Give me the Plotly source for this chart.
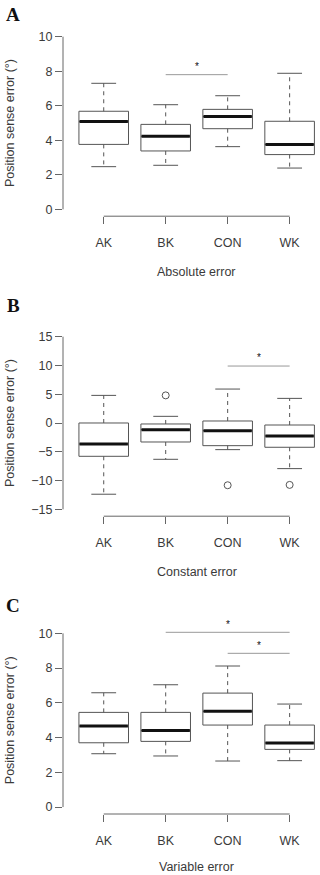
import plotly.graph_objects as go

W, H = 320, 875

categories = ["AK", "BK", "CON", "WK"]
cat_x = [1, 2, 3, 4]

# Panel A: Absolute error
a_lower = [2.47, 2.55, 3.63, 2.39]
a_q1 = [3.76, 3.38, 4.67, 3.17]
a_median = [5.08, 4.23, 5.37, 3.76]
a_q3 = [5.68, 4.92, 5.79, 5.10]
a_upper = [7.30, 6.06, 6.58, 7.88]
a_out_x = []
a_out_y = []
a_sig_from = [2]
a_sig_to = [3]
a_sig_y = [7.80]
a_star_y = [8.45]

# Panel B: Constant error
b_lower = [-12.38, -6.31, -4.63, -7.93]
b_q1 = [-5.79, -3.30, -3.94, -4.22]
b_median = [-3.65, -1.16, -1.33, -2.26]
b_q3 = [0.0, -0.17, 0.35, -0.35]
b_upper = [4.80, 1.16, 5.90, 4.28]
b_out_x = [2, 3, 4]
b_out_y = [4.80, -10.82, -10.76]
b_sig_from = [3]
b_sig_to = [4]
b_sig_y = [9.9]
b_star_y = [11.9]

# Panel C: Variable error
c_lower = [3.07, 2.94, 2.65, 2.67]
c_q1 = [3.70, 3.78, 4.72, 3.32]
c_median = [4.66, 4.40, 5.51, 3.69]
c_q3 = [5.45, 5.45, 6.56, 4.72]
c_upper = [6.58, 7.04, 8.12, 5.93]
c_out_x = []
c_out_y = []
c_sig_from = [2, 3]
c_sig_to = [4, 4]
c_sig_y = [10.06, 8.85]
c_star_y = [10.69, 9.46]

y_ticks_a = [0, 2, 4, 6, 8, 10]
y_ticks_b = [-15, -10, -5, 0, 5, 10, 15]
y_ticks_c = [0, 2, 4, 6, 8, 10]

panel_letters = ["A", "B", "C"]
x_titles = ["Absolute error", "Constant error", "Variable error"]
y_title = "Position sense error (°)"

panels = [
    dict(lower=a_lower, q1=a_q1, med=a_median, q3=a_q3, upper=a_upper,
         ox=a_out_x, oy=a_out_y, sf=a_sig_from, st=a_sig_to, sy=a_sig_y, stary=a_star_y,
         ticks=y_ticks_a, yr=[-0.4, 10.4], top=29.8, bot=216.2, letter_y=14, xt_y=271.5),
    dict(lower=b_lower, q1=b_q1, med=b_median, q3=b_q3, upper=b_upper,
         ox=b_out_x, oy=b_out_y, sf=b_sig_from, st=b_sig_to, sy=b_sig_y, stary=b_star_y,
         ticks=y_ticks_b, yr=[-16.2, 16.2], top=329.8, bot=516.2, letter_y=305.5, xt_y=571.5),
    dict(lower=c_lower, q1=c_q1, med=c_median, q3=c_q3, upper=c_upper,
         ox=c_out_x, oy=c_out_y, sf=c_sig_from, st=c_sig_to, sy=c_sig_y, stary=c_star_y,
         ticks=y_ticks_c, yr=[-0.4, 10.4], top=626.4, bot=814.0, letter_y=605, xt_y=867),
]

BOX_COL = "#555555"
AXIS_COL = "#666666"
TEXT_COL = "#3a3a3a"
FONT = "Liberation Sans, Arial, sans-serif"
FS = 12.5
BOXW = 0.8
STAPLE = 0.2

def py(p):
    return 1 - p / H

fig = go.Figure()
layout = dict(
    width=W, height=H, margin=dict(l=0, r=0, t=0, b=0),
    paper_bgcolor="white", plot_bgcolor="white", showlegend=False,
    font=dict(family=FONT, size=FS, color=TEXT_COL),
)
shapes = []
annotations = []

for i, p in enumerate(panels):
    n = "" if i == 0 else str(i + 1)
    xa, ya = "x" + n, "y" + n
    # box bodies
    fig.add_trace(go.Box(
        x=cat_x, q1=p["q1"], median=p["med"], q3=p["q3"],
        lowerfence=p["q1"], upperfence=p["q3"], width=BOXW,
        fillcolor="white", line=dict(color=BOX_COL, width=1),
        boxpoints=False, whiskerwidth=0, xaxis=xa, yaxis=ya, hoverinfo="skip"))
    # whiskers (dashed)
    wx, wy = [], []
    for x, lo, q1, q3, up in zip(cat_x, p["lower"], p["q1"], p["q3"], p["upper"]):
        wx += [x, x, None, x, x, None]
        wy += [q3, up, None, q1, lo, None]
    fig.add_trace(go.Scatter(x=wx, y=wy, mode="lines", xaxis=xa, yaxis=ya,
                             line=dict(color=BOX_COL, width=1, dash="4px,4px"), hoverinfo="skip"))
    # staples
    sx, sy = [], []
    for x, lo, up in zip(cat_x, p["lower"], p["upper"]):
        sx += [x - STAPLE, x + STAPLE, None, x - STAPLE, x + STAPLE, None]
        sy += [up, up, None, lo, lo, None]
    fig.add_trace(go.Scatter(x=sx, y=sy, mode="lines", xaxis=xa, yaxis=ya,
                             line=dict(color=BOX_COL, width=1), hoverinfo="skip"))
    # thick medians
    mx, my = [], []
    for x, m in zip(cat_x, p["med"]):
        mx += [x - BOXW / 2 + 0.01, x + BOXW / 2 - 0.01, None]
        my += [m, m, None]
    fig.add_trace(go.Scatter(x=mx, y=my, mode="lines", xaxis=xa, yaxis=ya,
                             line=dict(color="#111111", width=3), hoverinfo="skip"))
    # outliers
    if p["ox"]:
        fig.add_trace(go.Scatter(x=p["ox"], y=p["oy"], mode="markers", xaxis=xa, yaxis=ya,
                                 marker=dict(symbol="circle-open", size=7,
                                             line=dict(color=BOX_COL, width=1), color=BOX_COL),
                                 hoverinfo="skip"))
    # significance bars
    gx, gy = [], []
    for a, b, yv in zip(p["sf"], p["st"], p["sy"]):
        gx += [a, b, None]
        gy += [yv, yv, None]
    fig.add_trace(go.Scatter(x=gx, y=gy, mode="lines", xaxis=xa, yaxis=ya, cliponaxis=False,
                             line=dict(color="#999999", width=1), hoverinfo="skip"))
    # significance stars (domain fraction so they may sit above the plot region)
    r0, r1 = p["yr"]
    for a, b, yv in zip(p["sf"], p["st"], p["stary"]):
        annotations.append(dict(text="*", xref=xa, yref=ya + " domain", x=(a + b) / 2,
                                y=(yv - r0) / (r1 - r0), showarrow=False,
                                xanchor="center", yanchor="middle", yshift=-3,
                                font=dict(size=10, color="#111111", family=FONT)))

    dom_y = [py(p["bot"]), py(p["top"])]
    layout["xaxis" + n] = dict(
        domain=[63 / W, 1], range=[0.343, 4.49], anchor=ya,
        tickvals=cat_x, ticktext=categories, ticks="outside", ticklen=7,
        tickcolor=AXIS_COL, showgrid=False, zeroline=False, showline=False,
        ticklabelstandoff=8,
        tickfont=dict(size=FS, color=TEXT_COL), fixedrange=True)
    layout["yaxis" + n] = dict(
        domain=dom_y, range=p["yr"], anchor=xa,
        tickvals=p["ticks"], ticks="outside", ticklen=7, tickcolor=AXIS_COL,
        showgrid=False, zeroline=False, showline=False,
        tickfont=dict(size=FS, color=TEXT_COL), fixedrange=True)
    # R-style axis lines spanning only the tick range
    shapes.append(dict(type="line", xref=xa + " domain", yref=ya,
                       x0=0, x1=0, y0=p["ticks"][0], y1=p["ticks"][-1],
                       line=dict(color=AXIS_COL, width=1)))
    shapes.append(dict(type="line", xref=xa, yref=ya + " domain",
                       x0=cat_x[0], x1=cat_x[-1], y0=0, y1=0,
                       line=dict(color=AXIS_COL, width=1)))
    # titles
    annotations.append(dict(text=x_titles[i], xref=xa, yref="paper", x=2.5, y=py(p["xt_y"]),
                            showarrow=False, xanchor="center", yanchor="middle",
                            font=dict(size=FS, color=TEXT_COL, family=FONT)))
    annotations.append(dict(text=y_title, xref="paper", yref=ya + " domain", x=10 / W, y=0.5,
                            textangle=-90, showarrow=False, xanchor="center", yanchor="middle",
                            font=dict(size=FS, color=TEXT_COL, family=FONT)))
    annotations.append(dict(text="<b>" + panel_letters[i] + "</b>", xref="paper", yref="paper",
                            x=13 / W, y=py(p["letter_y"]), showarrow=False,
                            xanchor="center", yanchor="middle",
                            font=dict(size=19, color="#111111",
                                      family="Liberation Serif, Times New Roman, serif")))

layout["shapes"] = shapes
layout["annotations"] = annotations
fig.update_layout(**layout)
fig.write_html("out.html")
